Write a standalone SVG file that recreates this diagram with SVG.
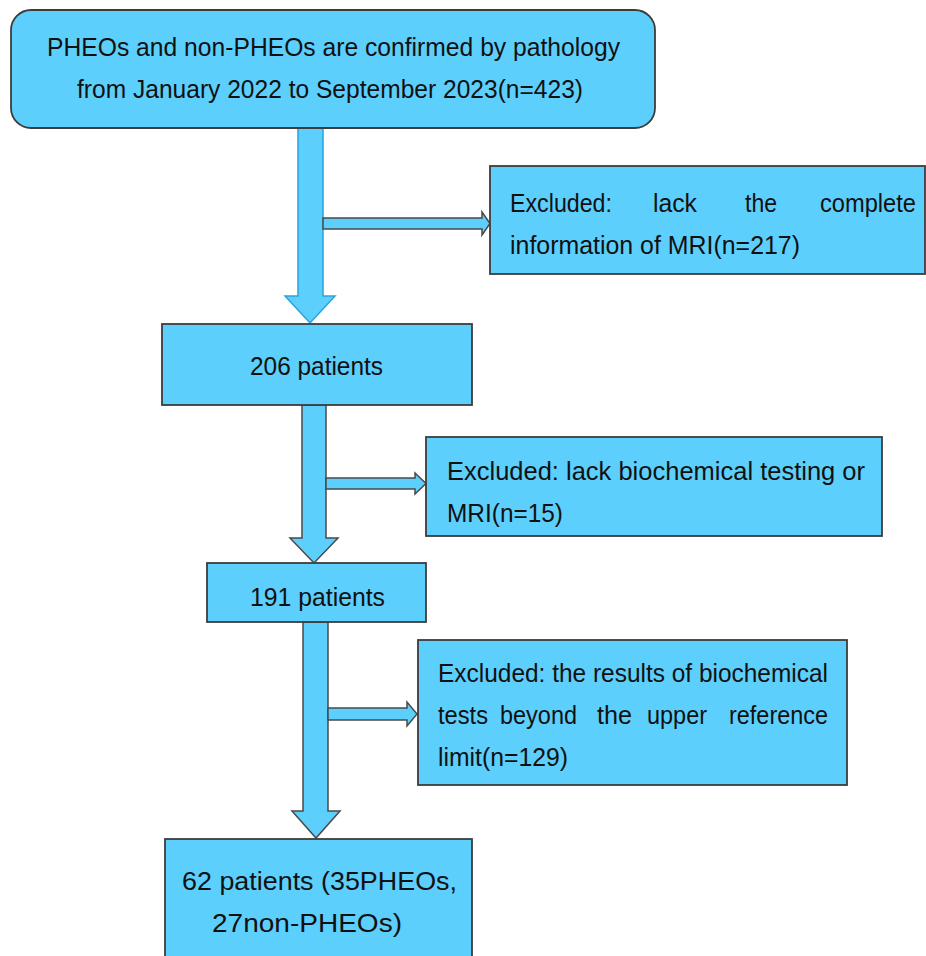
<svg xmlns="http://www.w3.org/2000/svg" width="926" height="956" viewBox="0 0 926 956">
<style>
.box{fill:#5dcffc;stroke:#3c3c3c;stroke-width:1.8}
.arr{fill:#5dcffc;stroke:#4a4a4a;stroke-width:1.5;stroke-linejoin:miter}
.arrb{fill:#5dcffc;stroke:#2aa3dc;stroke-width:1.5}
text{font-family:"Liberation Sans","Open Sans",Arial,sans-serif;font-size:25px;fill:#111}
</style>
<rect width="926" height="956" fill="#ffffff"/>
<g id="connectors">
<polygon class="arrb" points="298,128 323,128 323,296 335,296 310,323 285,296 298,296"/>
<polygon class="arr" points="323,218 482,218 482,212 490,223.5 482,235 482,229 323,229"/>
<polygon class="arr" points="302,405 326,405 326,538 338,538 314,563 290,538 302,538"/>
<polygon class="arr" points="326,478 415,478 415,473 426,483.5 415,494 415,489 326,489"/>
<polygon class="arr" points="303,622 328,622 328,811 340,811 316,838 292,811 303,811"/>
<polygon class="arr" points="328,708 407,708 407,702 417,714 407,726 407,720 328,720"/>
</g>
<g id="start">
<rect class="box" x="11" y="10" width="644" height="118" rx="20" ry="20"/>
<text x="47" y="56" textLength="573" lengthAdjust="spacingAndGlyphs">PHEOs and non-PHEOs are confirmed by pathology</text>
<text x="77" y="98" textLength="506" lengthAdjust="spacingAndGlyphs">from January 2022 to September 2023(n=423)</text>
</g>
<g id="excl1">
<rect class="box" x="490" y="166" width="435" height="108"/>
<text y="212"><tspan x="510" textLength="102" lengthAdjust="spacingAndGlyphs">Excluded:</tspan><tspan x="653" textLength="44" lengthAdjust="spacingAndGlyphs">lack</tspan><tspan x="745" textLength="32" lengthAdjust="spacingAndGlyphs">the</tspan><tspan x="820" textLength="96" lengthAdjust="spacingAndGlyphs">complete</tspan></text>
<text x="510" y="254" textLength="290" lengthAdjust="spacingAndGlyphs">information of MRI(n=217)</text>
</g>
<g id="n206">
<rect class="box" x="162" y="324" width="310" height="81"/>
<text x="250" y="375" textLength="133" lengthAdjust="spacingAndGlyphs">206 patients</text>
</g>
<g id="excl2">
<rect class="box" x="426" y="437" width="456" height="99"/>
<text x="447" y="480" textLength="418" lengthAdjust="spacingAndGlyphs">Excluded: lack biochemical testing or</text>
<text x="447" y="522" textLength="116" lengthAdjust="spacingAndGlyphs">MRI(n=15)</text>
</g>
<g id="n191">
<rect class="box" x="207" y="563" width="219" height="59"/>
<text x="250" y="606" textLength="135" lengthAdjust="spacingAndGlyphs">191 patients</text>
</g>
<g id="excl3">
<rect class="box" x="418" y="640" width="429" height="145"/>
<text x="438" y="682" textLength="390" lengthAdjust="spacingAndGlyphs">Excluded: the results of biochemical</text>
<text y="724"><tspan x="438" textLength="50" lengthAdjust="spacingAndGlyphs">tests</tspan><tspan x="500" textLength="77" lengthAdjust="spacingAndGlyphs">beyond</tspan><tspan x="597" textLength="35" lengthAdjust="spacingAndGlyphs">the</tspan><tspan x="647" textLength="60" lengthAdjust="spacingAndGlyphs">upper</tspan><tspan x="729" textLength="99" lengthAdjust="spacingAndGlyphs">reference</tspan></text>
<text x="438" y="766" textLength="130" lengthAdjust="spacingAndGlyphs">limit(n=129)</text>
</g>
<g id="n62">
<rect class="box" x="165" y="839" width="307" height="125"/>
<text x="182" y="890" textLength="275" lengthAdjust="spacingAndGlyphs">62 patients (35PHEOs,</text>
<text x="212" y="932" textLength="190" lengthAdjust="spacingAndGlyphs">27non-PHEOs)</text>
</g>
</svg>
